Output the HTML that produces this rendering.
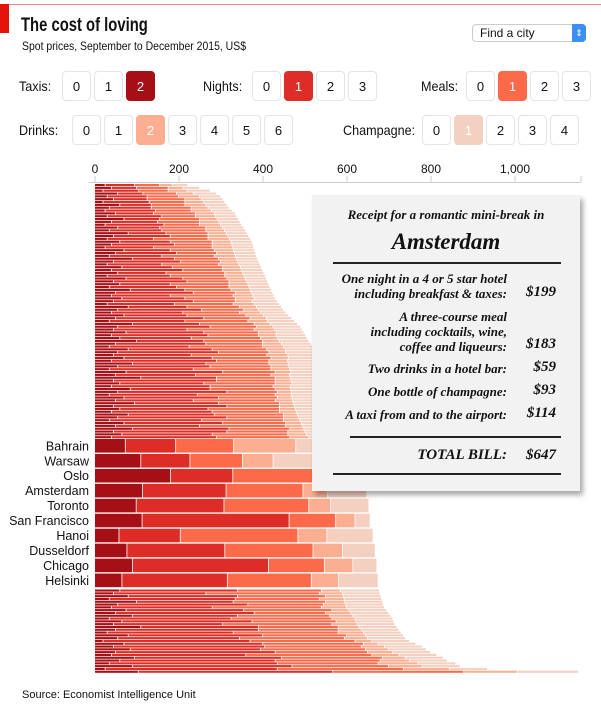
<!DOCTYPE html>
<html><head><meta charset="utf-8">
<style>
body{margin:0;background:#fff;font-family:"Liberation Sans",sans-serif;color:#111}
#wrap{position:relative;width:601px;height:713px;overflow:hidden}
.abs{position:absolute}
.btn{position:absolute;width:29px;height:30px;border:1px solid #e4e4e4;border-radius:4px;box-sizing:border-box;text-align:center;line-height:29px;font-size:13px;background:#fff;color:#111}
.lbl{position:absolute;font-size:14px;line-height:16px;transform:scaleX(0.9);transform-origin:0 0}
.rc{position:absolute;font-family:"Liberation Serif",serif;font-style:italic;font-weight:bold;color:#111;white-space:nowrap}
</style></head><body>
<div id="wrap">
<div class="abs" style="left:0;top:4px;width:601px;height:1px;background:#e88"></div>
<div class="abs" style="left:0;top:4px;width:9px;height:29px;background:#e3120b"></div>
<div class="abs" style="left:21px;top:15px;font-size:19px;font-weight:bold;transform:scaleX(0.78);transform-origin:0 0;white-space:nowrap">The cost of loving</div>
<div class="abs" style="left:22px;top:39px;font-size:12px;transform:scaleX(0.87);transform-origin:0 0;white-space:nowrap">Spot prices, September to December 2015, US$</div>
<div class="abs" style="left:472px;top:24px;width:114px;height:18px;border:1px solid #ccc;border-radius:4px;box-sizing:border-box;font-size:12px;line-height:16px;padding-left:7px;background:#fff">Find a city<div class="abs" style="right:-1px;top:-1px;width:14px;height:18px;background:#3b8ff0;border-radius:0 4px 4px 0;color:#fff;font-size:9px;line-height:18px;text-align:center">⇕</div></div>

<div class="lbl" style="left:19px;top:78px">Taxis:</div>
<div class="lbl" style="left:203px;top:78px">Nights:</div>
<div class="lbl" style="left:421px;top:78px">Meals:</div>
<div class="lbl" style="left:19px;top:122px">Drinks:</div>
<div class="lbl" style="left:343px;top:122px">Champagne:</div>
<div id="btns"></div>

<svg class="abs" style="left:0;top:0" width="601" height="713" id="chart"></svg>

<div class="abs" style="left:312px;top:195px;width:268px;height:296px;background:#f2f2f2;box-shadow:3px 4px 5px rgba(0,0,0,0.35)">
<div class="rc" style="left:0;width:268px;text-align:center;top:12px;font-size:13px">Receipt for a romantic mini-break in</div>
<div class="rc" style="left:0;width:268px;text-align:center;top:34px;font-size:23px">Amsterdam</div>
<div class="abs" style="left:21px;top:67px;width:228px;height:1.5px;background:#222"></div>
<div class="rc" style="right:73px;top:76px;font-size:13px;text-align:right;line-height:15px">One night in a 4 or 5 star hotel<br>including breakfast &amp; taxes:</div>
<div class="rc" style="right:24px;top:89px;font-size:15px">$199</div>
<div class="rc" style="right:73px;top:114px;font-size:13px;text-align:right;line-height:15px">A three-course meal<br>including cocktails, wine,<br>coffee and liqueurs:</div>
<div class="rc" style="right:24px;top:141px;font-size:15px">$183</div>
<div class="rc" style="right:73px;top:166px;font-size:13px">Two drinks in a hotel bar:</div>
<div class="rc" style="right:24px;top:164px;font-size:15px">$59</div>
<div class="rc" style="right:73px;top:189px;font-size:13px">One bottle of champagne:</div>
<div class="rc" style="right:24px;top:187px;font-size:15px">$93</div>
<div class="rc" style="right:73px;top:212px;font-size:13px">A taxi from and to the airport:</div>
<div class="rc" style="right:24px;top:210px;font-size:15px">$114</div>
<div class="abs" style="left:38px;top:241px;width:211px;height:1.5px;background:#222"></div>
<div class="rc" style="right:73px;top:252px;font-size:15px">TOTAL BILL:</div>
<div class="rc" style="right:24px;top:252px;font-size:15px">$647</div>
<div class="abs" style="left:21px;top:278px;width:228px;height:1.5px;background:#222"></div>
</div>

<div class="abs" style="left:22px;top:689px;font-size:11px">Source: Economist Intelligence Unit</div>
</div>
<script>
const labeledCities=["Bahrain","Warsaw","Oslo","Amsterdam","Toronto","San Francisco","Hanoi","Dusseldorf","Chicago","Helsinki"];
const taxiVals=[25,40,20,55,30,45,20,60,35,25,50,30,70,40,25,55,35,80,45,30,60,40,25,70,50,35,90,45,30,65,40,55,30,75,45,60,35,85,50,40,65,45,30,80,55,40,70,50,35,90,55,45,75,40,60,100,50,35,80,55,45,70,40,90,55,35,75,50,110,45,60,40,85,55,35,70,50,95,45,60,40,80,55,35,70,50,90,45,65,40,
73,110,181,114,99,113,58,77,90,65,
60,45,80,35,100,55,40,75,50,90,35,65,45,110,50,30,80,55,20,70,45,85,50,40,95,60,35,90,25,104];
const hotelVals=[70,60,85,60,95,80,110,75,100,120,90,130,85,110,140,100,125,90,135,110,120,150,115,110,145,125,100,160,130,120,170,115,150,135,175,120,160,130,185,140,150,190,160,140,200,170,150,210,180,160,220,175,185,230,170,160,215,190,200,240,185,210,250,175,220,200,230,190,180,245,200,235,190,260,210,225,185,200,270,210,240,205,260,220,235,200,230,270,215,250,
120,117,148,199,209,350,146,233,324,251,
280,220,260,300,230,310,240,280,330,250,290,310,260,280,340,300,320,290,350,330,360,310,380,320,350,370,400,380,410,463];
const mealVals=[60,75,70,80,75,90,85,80,95,85,100,80,95,100,85,110,105,100,90,130,100,90,140,105,95,125,105,95,135,120,95,140,130,105,100,140,125,110,100,150,120,100,140,125,100,135,140,110,150,130,110,160,130,120,165,140,135,175,130,120,180,140,125,150,145,185,125,180,140,140,170,150,155,120,185,140,195,145,125,170,160,165,135,195,150,205,145,145,180,175,
138,125,205,183,202,111,280,210,133,200,
200,270,210,200,220,180,260,210,170,220,240,200,260,190,190,250,200,250,250,240,230,250,220,300,240,250,240,230,300,312];
const drinkVals=[30,35,45,40,50,40,45,50,40,48,45,48,42,46,50,40,44,43,47,51,45,47,49,46,43,50,43,41,49,42,45,43,46,44,42,45,48,46,39,47,45,40,50,40,35,50,42,39,46,38,40,49,43,42,41,40,45,50,45,40,50,42,44,46,43,45,37,44,36,38,40,41,37,33,39,35,42,34,36,38,40,33,36,39,37,40,33,41,44,45,
148,73,48,59,52,46,69,70,68,65,
45,55,42,59,46,53,60,40,60,55,55,47,60,50,55,60,45,55,40,35,55,55,60,65,55,70,95,80,110,128];
const champVals=[36,40,55,55,50,50,50,50,50,50,50,50,50,50,50,50,50,50,50,50,50,50,50,50,50,50,50,50,50,50,50,50,50,50,50,50,50,50,50,50,50,60,60,60,60,60,60,60,65,65,65,65,65,70,70,70,70,70,70,75,75,75,80,80,80,80,80,85,85,85,85,90,90,90,90,90,90,90,90,90,90,90,90,90,90,90,90,90,90,90,
144,215,61,93,91,36,110,78,57,94,
93,90,90,90,90,90,90,90,90,90,90,90,90,90,90,90,90,90,90,90,90,90,90,90,90,90,90,90,90,145];
const xTicks=[0,200,400,600,800,1000];
const xTickLabels=["0","200","400","600","800","1,000"];
const colors=["#a50f15","#de2d26","#fc6a4a","#fcae91","#f3d0c0"];

const NS="http://www.w3.org/2000/svg";
const svg=document.getElementById('chart');
const x0=95,kx=0.42;
function xs(v){return x0+v*kx;}
function mk(tag,attrs){const e=document.createElementNS(NS,tag);for(const k in attrs)e.setAttribute(k,attrs[k]);svg.appendChild(e);return e;}
const ax=mk('line',{x1:89,x2:581,y1:182.5,y2:182.5,stroke:'#ccc','stroke-width':1});


xTicks.forEach((t,i)=>{
  const tk=mk('line',{x1:xs(t),x2:xs(t),y1:176,y2:182.5,stroke:'#ccc'});
  
  
  const tx=mk('text',{x:xs(t),y:173,'text-anchor':'middle','font-size':12,'font-family':'Liberation Sans, sans-serif',fill:'#111'});
  tx.textContent=xTickLabels[i];
  
  
});
mk('line',{x1:581,x2:581,y1:176,y2:182.5,stroke:'#ccc'});
const series=[taxiVals,hotelVals,mealVals,drinkVals,champVals];
const N=taxiVals.length;
const nLab=labeledCities.length;
const nBottom=30;
const firstLab=N-nBottom-nLab;
const topPitch=(439-184)/firstLab;
for(let i=0;i<N;i++){
  let y,h,c="";
  if(i<firstLab){y=184+i*topPitch;h=2.1;}
  else if(i<firstLab+nLab){y=439+(i-firstLab)*14.95;h=13.6;c=labeledCities[i-firstLab];}
  else{y=589.5+(i-firstLab-nLab)*2.8;h=2.1;}
  let acc=0;
  series.forEach((s,k)=>{
    const a=xs(acc),b=xs(acc+s[i]);
    const r=mk('rect',{x:a,y:y,width:Math.max(0,b-a-0.8),height:h,fill:colors[k]});
    
    
    acc+=s[i];
  });
  if(c){
    const t=mk('text',{x:89,y:y+h/2+4.5,'text-anchor':'end','font-size':12.5,'font-family':'Liberation Sans, sans-serif',fill:'#111'});
    t.textContent=c;
    
    
  }
}
const groups=[
 {name:'taxis',xs:[62,94,126],top:71,sel:2,col:'#a50f15'},
 {name:'nights',xs:[252,284,316,348],top:71,sel:1,col:'#de2d26'},
 {name:'meals',xs:[466,498,530,562],top:71,sel:1,col:'#fc6a4a'},
 {name:'drinks',xs:[72,104,136,168,200,232,264],top:115,sel:2,col:'#fcae91'},
 {name:'champagne',xs:[422,454,486,518,550],top:115,sel:1,col:'#f3d0c0'}];
const bc=document.getElementById('btns');
groups.forEach(g=>{g.xs.forEach((x,i)=>{
  const d=document.createElement('div');d.className='btn';
  d.style.left=x+'px';d.style.top=g.top+'px';d.textContent=i;
  if(i===g.sel){d.style.background=g.col;d.style.color='#fff';d.style.borderColor=g.col;}
  
  
  bc.appendChild(d);
});});
</script>
</body></html>
